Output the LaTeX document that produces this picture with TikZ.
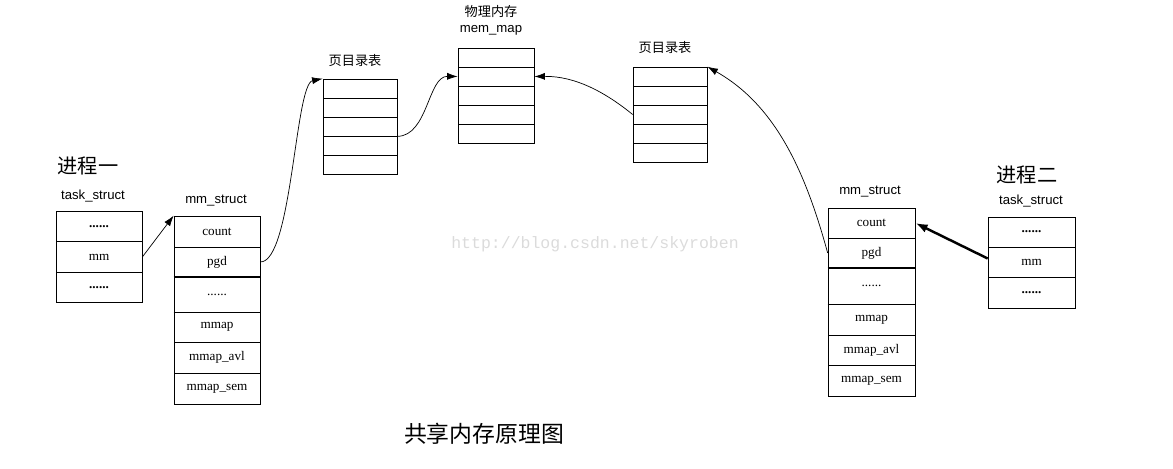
\documentclass[tikz,border=0pt]{standalone}
\usepackage{fontspec}
\setmainfont{Liberation Serif}
\setsansfont{Liberation Sans}
\setmonofont{Liberation Mono}
\newfontfamily\cjk{Noto Sans CJK SC}
\usetikzlibrary{arrows.meta}

\begin{document}
\begin{tikzpicture}[x=0.02cm, y=-0.02cm,
  cell/.style={draw, minimum width=1.72cm, minimum height=0.6cm, inner sep=0pt, font=\fontsize{7.5}{9}\selectfont},
  pte/.style={draw, minimum height=0.38cm, inner sep=0pt},
  lbl/.style={inner sep=0pt, font=\sffamily\fontsize{7.5}{9}\selectfont},
  zh/.style={inner sep=0pt, font=\cjk\fontsize{7.5}{9}\selectfont},
  link/.style={-{Latex[length=6pt,width=4pt]}, thin}]
  \useasboundingbox (0,0) rectangle (1173,469);

  % process one
  \node[zh, font=\cjk\fontsize{11.5}{13}\selectfont] (p1) at (88,166) {进程一};
  \node[lbl] (t1) at (93,196) {task\_struct};
  \node[cell, minimum height=0.61cm] (la) at (99,226.5) {\textbf{......}};
  \node[cell, minimum height=0.61cm] (lmm) at (99,257) {mm};
  \node[cell, minimum height=0.61cm] (lb) at (99,287.5) {\textbf{......}};

  \node[lbl] (m1) at (216,201) {mm\_struct};
  \node[cell, minimum height=0.62cm] (lcount) at (217,231.5) {count};
  \node[cell] (lpgd) at (217,262) {pgd};
  \node[cell, minimum height=0.7cm] (ldots) at (217,294.5) {......};
  \node[cell] (lmmap) at (217,327) {mmap};
  \node[cell, minimum height=0.62cm] (lavl) at (217,357.5) {mmap\_avl};
  \node[cell, minimum height=0.62cm] (lsem) at (217,388.5) {mmap\_sem};
  \draw[thick] (ldots.north west) -- (ldots.north east);
  \draw[thick] (ldots.south west) -- (ldots.south east);

  % page directory one
  \node[zh] (d1) at (355,61) {页目录表};
  \foreach \i in {1,...,5}
    \node[pte, minimum width=1.48cm] (pa\i) at (360,69.5+19*\i) {};

  % physical memory
  \node[zh] (phy) at (491,12) {物理内存};
  \node[lbl] (mem) at (491,30) {mem\_map};
  \foreach \i in {1,...,5}
    \node[pte, minimum width=1.52cm] (mm\i) at (496,38.5+19*\i) {};

  % page directory two
  \node[zh] (d2) at (665,48) {页目录表};
  \foreach \i in {1,...,5}
    \node[pte, minimum width=1.48cm] (pb\i) at (670,57.5+19*\i) {};

  % process two
  \node[lbl] (m2) at (870,192) {mm\_struct};
  \node[cell, minimum width=1.74cm] (rcount) at (871.5,223) {count};
  \node[cell, minimum width=1.74cm] (rpgd) at (871.5,253) {pgd};
  \node[cell, minimum width=1.74cm, minimum height=0.72cm] (rdots) at (871.5,286) {......};
  \node[cell, minimum width=1.74cm, minimum height=0.62cm] (rmmap) at (871.5,319.5) {mmap};
  \node[cell, minimum width=1.74cm] (ravl) at (871.5,350) {mmap\_avl};
  \node[cell, minimum width=1.74cm, minimum height=0.62cm] (rsem) at (871.5,380.5) {mmap\_sem};
  \draw[thick] (rdots.north west) -- (rdots.north east);
  \draw[thick] (rdots.south west) -- (rdots.south east);

  \node[zh, font=\cjk\fontsize{11.5}{13}\selectfont] (p2) at (1027,175) {进程二};
  \node[lbl] (t2) at (1031,201) {task\_struct};
  \node[cell, minimum width=1.74cm] (ra) at (1031.5,232) {\textbf{......}};
  \node[cell, minimum width=1.74cm] (rmm) at (1031.5,262) {mm};
  \node[cell, minimum width=1.74cm, minimum height=0.62cm] (rb) at (1031.5,292.5) {\textbf{......}};

  % links
  \draw[link] (lmm.east) -- (lcount.north west);
  \draw[link] (lpgd.east) .. controls (292,262) and (295,84) .. (pa1.north west);
  \draw[link] (pa3.south east) .. controls (428,136) and (428,76) .. (mm2.west);
  \draw[link] (pb3.west) .. controls (605,92) and (575,76) .. (mm2.east);
  \draw[link] (rpgd.west) .. controls (805,170) and (775,105) .. (pb1.north east);
  \draw[-{Latex[length=7pt,width=5pt]}, line width=1.4pt] ([yshift=2pt]rmm.west) -- (rcount.east);

  % watermark and title
  \node[inner sep=0pt, text=gray!28, font=\ttfamily\fontsize{9.4}{11}\selectfont] (wm) at (595,244) {http://blog.csdn.net/skyroben};
  \node[zh, font=\cjk\fontsize{13}{15}\selectfont] (title) at (484,434) {共享内存原理图};
\end{tikzpicture}
\end{document}
